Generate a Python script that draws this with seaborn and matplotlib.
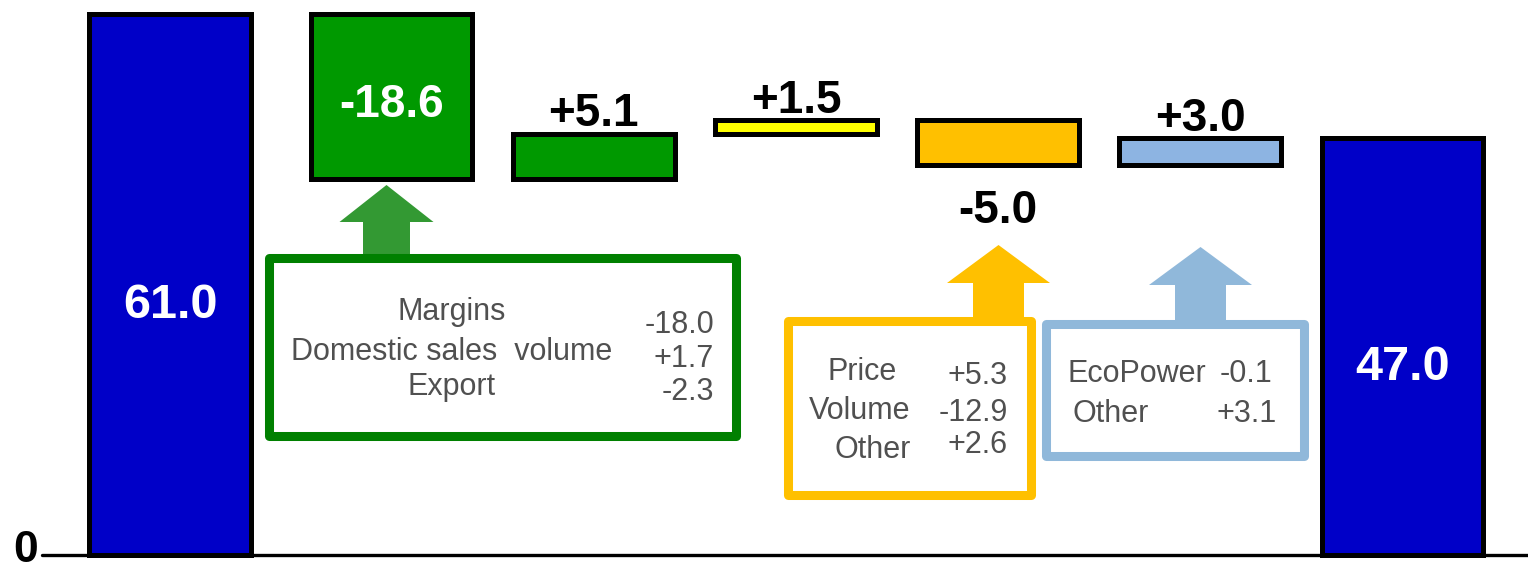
import numpy as np
import pandas as pd
import matplotlib
matplotlib.use("Agg")
import matplotlib.pyplot as plt
import seaborn as sns
from matplotlib.patches import Rectangle, Polygon
from matplotlib.transforms import Affine2D

# Waterfall data
steps = ["Start", "Margins", "Step 2", "Step 3", "Step 4", "Step 5", "End"]
changes = [61.0, -18.6, 5.1, 1.5, -5.0, 3.0, 47.0]
is_total = [True, False, False, False, False, False, True]
bar_labels = ["61.0", "-18.6", "+5.1", "+1.5", "-5.0", "+3.0", "47.0"]
bar_colors = ["#0000C8", "#009900", "#009900", "#FFFF00", "#FFC000", "#8DB4E2", "#0000C8"]

# Breakdown boxes
green_items = ["Margins", "Domestic sales  volume", "Export"]
green_vals = ["-18.0", "+1.7", "-2.3"]
orange_items = ["Price", "Volume", "Other"]
orange_vals = ["+5.3", "-12.9", "+2.6"]
blue_items = ["EcoPower", "Other"]
blue_vals = ["-0.1", "+3.1"]

W, H = 1528, 572
PX_PER_UNIT = 8.87   # vertical scale
PX_PER_STEP = 202.2  # horizontal spacing

sns.set_style("white")
plt.rcParams['font.family'] = ['Liberation Sans', 'DejaVu Sans']

# running bottoms for the floating bars
bottoms = []
running = 0.0
for c, tot in zip(changes, is_total):
    if tot:
        bottoms.append(0.0)
        running = c
    else:
        bottoms.append(running)
        running += c

df = pd.DataFrame({"step": steps, "change": changes})

fig = plt.figure(figsize=(W / 100, H / 100), dpi=100)
ax = fig.add_axes([0, 0, 1, 1])
sns.barplot(data=df, x="step", y="change", hue="step", palette=bar_colors,
            saturation=1, width=0.80, edgecolor="black", linewidth=3.6,
            legend=False, ax=ax)

bars = sorted(ax.patches, key=lambda p: p.get_x())
for p, b in zip(bars, bottoms):
    p.set_y(b)
    p.set_joinstyle("miter")
# the opening bar sits a little further left than the others
first_shift = -19 / PX_PER_STEP
bars[0].set_x(bars[0].get_x() + first_shift)

ax.set_xlim(1 - 391.5 / PX_PER_STEP, 1 + (W - 391.5) / PX_PER_STEP)
ax.set_ylim(-17 / PX_PER_UNIT, 555 / PX_PER_UNIT)
ax.set_axis_off()
ax.axhline(0, xmin=42 / W, xmax=1, color="black", lw=2.4, zorder=0.5)

# bar value labels
for i, (c, b, lab, tot) in enumerate(zip(changes, bottoms, bar_labels, is_total)):
    x = i + (first_shift if i == 0 else 0)
    if tot:
        ax.annotate(lab, (x, c / 2), xytext=(0, -15), textcoords="offset points",
                    ha="center", va="center", color="white", fontsize=35, fontweight="bold")
    elif i == 1:
        ax.annotate(lab, (x, b + c / 2), xytext=(0, -6), textcoords="offset points",
                    ha="center", va="center", color="white", fontsize=33, fontweight="bold")
    elif c > 0:
        ax.annotate(lab, (x, b + c), xytext=(0, 14), textcoords="offset points",
                    ha="center", va="center", color="black", fontsize=33, fontweight="bold")
    else:
        ax.annotate(lab, (x, b + c), xytext=(0, -33), textcoords="offset points",
                    ha="center", va="center", color="black", fontsize=33, fontweight="bold")

# pixel transform (origin top-left)
pix = Affine2D().scale(1 / W, -1 / H).translate(0, 1) + fig.transFigure

fig.text(26, 571, "0", transform=pix, ha="center", va="bottom",
         fontsize=32, fontweight="bold", color="black")


def up_arrow(cx, tip_y, base_y, bottom_y, head_half, shaft_half, color):
    pts = [(cx, tip_y), (cx + head_half, base_y), (cx + shaft_half, base_y),
           (cx + shaft_half, bottom_y), (cx - shaft_half, bottom_y),
           (cx - shaft_half, base_y), (cx - head_half, base_y)]
    fig.add_artist(Polygon(pts, closed=True, transform=pix, facecolor=color,
                           edgecolor="none", zorder=3))


def box(x0, y0, x1, y1, color):
    fig.add_artist(Rectangle((x0, y0), x1 - x0, y1 - y0, transform=pix,
                             facecolor="white", edgecolor=color, lw=6.5,
                             joinstyle="round", zorder=4))


txt_kw = dict(transform=pix, fontsize=22, color="#505050", va="baseline", zorder=5)

# green box
up_arrow(386.5, 185, 222, 258, 47, 23.5, "#339933")
box(268.5, 257.5, 735.5, 435.5, "#008000")
for s, y in zip(green_items, [320, 360, 395]):
    fig.text(452, y, s, ha="center", **txt_kw)
for s, y in zip(green_vals, [333, 367, 400]):
    fig.text(714, y, s, ha="right", **txt_kw)

# orange box
up_arrow(998.5, 245, 283, 321, 51.5, 25.5, "#FFC000")
box(787.5, 320.5, 1030.5, 494.5, "#FFC000")
for s, x, y in zip(orange_items, [827, 809, 835], [380, 419, 458]):
    fig.text(x, y, s, ha="left", **txt_kw)
for s, y in zip(orange_vals, [384, 421, 453]):
    fig.text(1008, y, s, ha="right", **txt_kw)

# blue box
up_arrow(1200.5, 247, 285, 324, 51.5, 25.5, "#90B8DA")
box(1045.5, 323.5, 1303.5, 455.5, "#90B8DA")
for s, x, y in zip(blue_items, [1067, 1072], [382, 422]):
    fig.text(x, y, s, ha="left", **txt_kw)
for s, x, y in zip(blue_vals, [1272, 1277], [382, 422]):
    fig.text(x, y, s, ha="right", **txt_kw)

plt.savefig("out.png", dpi=100)
